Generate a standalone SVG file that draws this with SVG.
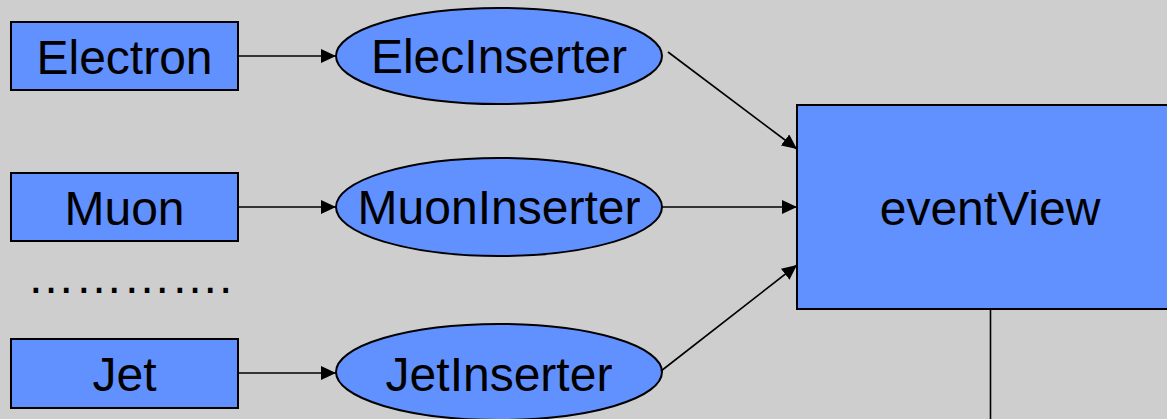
<svg xmlns="http://www.w3.org/2000/svg" width="1167" height="419" viewBox="0 0 1167 419">
<style>
.box{fill:#6190ff;stroke:#000;stroke-width:2}
.lbl{font-family:"Liberation Sans",Arial,sans-serif;font-size:48px;fill:#000;text-anchor:middle}
.edge{fill:none;stroke:#000;stroke-width:1.6}
</style>
<defs>
<marker id="ah" markerUnits="userSpaceOnUse" markerWidth="16" markerHeight="14" refX="15" refY="7" orient="auto">
<path d="M0,0 L15,7 L0,14 Z" fill="#000"/>
</marker>
</defs>
<rect width="1167" height="419" fill="#cecece"/>
<g id="electron"><rect class="box" x="11" y="22" width="227" height="68"/><text class="lbl" x="124.5" y="74">Electron</text></g>
<g id="muon"><rect class="box" x="11" y="173" width="227" height="68"/><text class="lbl" x="124.5" y="225">Muon</text></g>
<g id="jet"><rect class="box" x="11" y="339" width="227" height="69"/><text class="lbl" x="124.5" y="391">Jet</text></g>
<g id="dots"><text x="27" y="293" style="font-family:'Liberation Sans',Arial,sans-serif;font-size:48px;fill:#000">………….</text></g>
<g id="elecInserter"><ellipse class="box" cx="499" cy="56" rx="163" ry="48"/><text class="lbl" x="499" y="73">ElecInserter</text></g>
<g id="muonInserter"><ellipse class="box" cx="499" cy="207" rx="163" ry="49"/><text class="lbl" x="499" y="224">MuonInserter</text></g>
<g id="jetInserter"><ellipse class="box" cx="499" cy="372" rx="163" ry="48"/><text class="lbl" x="499" y="391">JetInserter</text></g>
<g id="eventView"><rect class="box" x="797" y="105" width="390" height="204"/><text class="lbl" x="990" y="225">eventView</text></g>
<g id="connectors">
<line class="edge" x1="238" y1="56" x2="336" y2="56" marker-end="url(#ah)"/>
<line class="edge" x1="238" y1="207" x2="336" y2="207" marker-end="url(#ah)"/>
<line class="edge" x1="238" y1="373" x2="336" y2="373" marker-end="url(#ah)"/>
<line class="edge" x1="668" y1="52" x2="797" y2="149" marker-end="url(#ah)"/>
<line class="edge" x1="662" y1="207" x2="797" y2="207" marker-end="url(#ah)"/>
<line class="edge" x1="661" y1="371" x2="797" y2="265" marker-end="url(#ah)"/>
<line class="edge" x1="990.5" y1="309" x2="990.5" y2="419"/>
</g>
</svg>
